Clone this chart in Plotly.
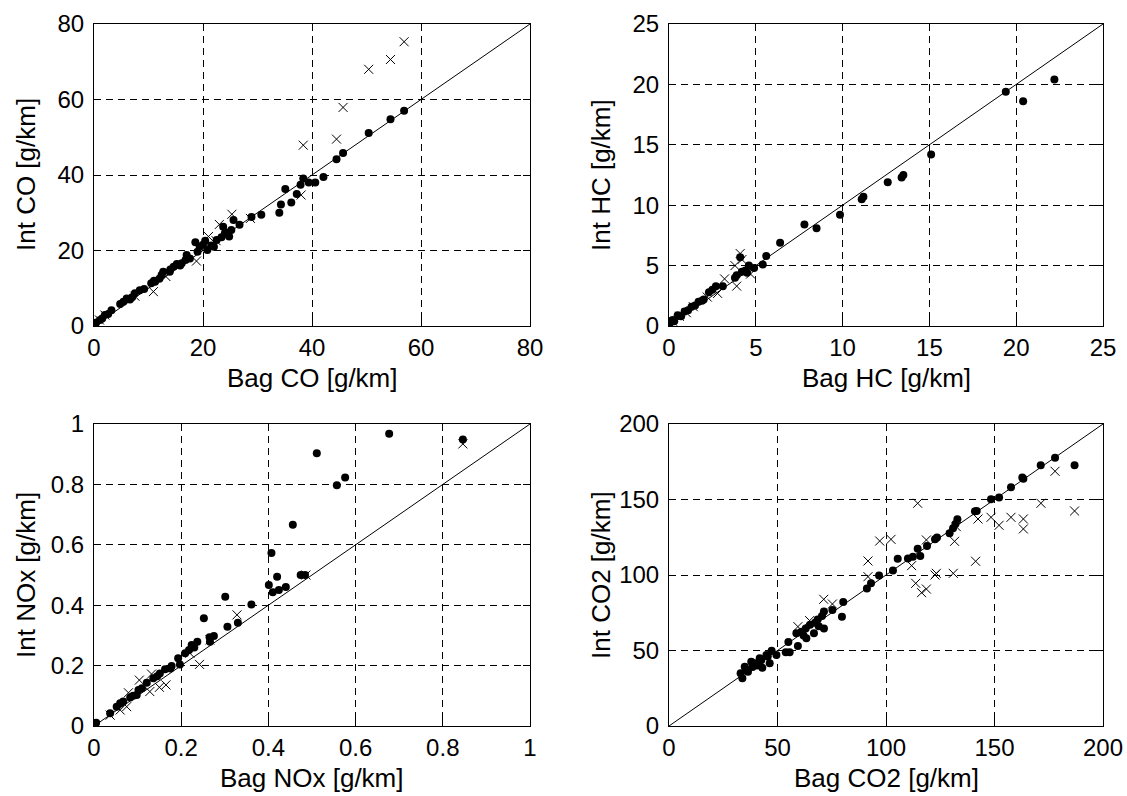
import plotly.graph_objects as go

# ---------------- data ----------------
co_dot_x = [56.9, 54.4, 50.4, 45.7, 44.5, 42.1, 40.6, 39.4, 38.4, 37.9, 37.2, 36.2, 35.1, 34.3, 34.0,
            30.7, 28.9, 26.7, 25.6, 25.2, 24.8, 23.7, 23.4, 22.5, 20.8, 20.4, 19.4, 18.6, 19.0, 17.0,
            16.1, 15.2, 14.6, 13.9, 12.7, 12.4, 11.2, 10.5, 8.4, 7.5, 6.0, 5.4, 4.8, 3.2, 2.0, 1.1,
            0.4, 0.2, 24.2, 21.5, 17.6, 15.8, 11.0, 9.2, 6.6, 2.6, 1.5, 16.8, 14.0, 20.0, 22.0,
            24.0, 12.0, 7.0]
co_dot_y = [57.0, 54.8, 51.1, 45.8, 44.2, 39.5, 38.0, 38.0, 39.1, 37.4, 35.0, 32.7, 36.3, 32.2, 30.0,
            29.5, 28.9, 26.8, 28.1, 25.4, 23.7, 26.3, 23.5, 22.8, 20.1, 22.6, 21.0, 22.2, 19.7, 18.8,
            16.6, 16.4, 15.7, 14.4, 14.4, 13.5, 11.7, 11.3, 9.5, 8.7, 7.3, 6.4, 5.8, 4.2, 2.9, 1.6,
            0.9, 0.4, 24.8, 21.3, 17.9, 16.0, 12.0, 9.8, 7.0, 3.2, 2.0, 17.5, 15.0, 21.5, 21.0,
            24.5, 12.5, 7.6]
co_x_x = [56.9, 54.4, 50.4, 45.7, 44.5, 38.4, 38.0, 25.3, 23.0, 21.0, 22.4, 18.8, 10.9, 28.7, 2.0,
          1.0, 13.2, 7.5, 0.5]
co_x_y = [75.3, 70.6, 68.0, 57.9, 49.5, 47.9, 34.7, 29.6, 26.9, 23.7, 22.6, 17.2, 9.1, 28.5, 2.9,
          1.6, 13.1, 7.9, 0.6]

hc_dot_x = [22.2, 20.4, 19.4, 15.1, 13.5, 13.4, 12.6, 11.2, 11.1, 9.85, 8.5, 7.8, 6.4, 5.6, 5.4,
            4.9, 4.6, 4.4, 4.2, 3.9, 4.1, 3.1, 2.7, 2.3, 2.0, 1.7, 1.3, 0.9, 0.5, 0.2, 0.04, 1.5,
            1.1, 0.7, 0.3, 4.5, 3.8, 2.5, 1.9]
hc_dot_y = [20.4, 18.6, 19.4, 14.2, 12.5, 12.3, 11.9, 10.7, 10.5, 9.2, 8.1, 8.4, 6.9, 5.8, 5.1,
            4.8, 5.0, 4.6, 4.5, 4.2, 5.7, 3.3, 3.3, 2.8, 2.2, 2.0, 1.6, 1.2, 0.9, 0.5, 0.2, 1.7,
            1.3, 0.8, 0.4, 4.4, 4.0, 3.0, 2.1]
hc_x_x = [4.1, 4.2, 3.8, 3.2, 3.9, 4.7, 2.8, 1.4, 0.6, 0.2, 2.2, 1.0]
hc_x_y = [6.0, 5.5, 5.0, 3.9, 3.3, 4.3, 2.7, 1.6, 0.8, 0.4, 2.4, 1.1]

nox_dot_x = [0.846, 0.677, 0.511, 0.576, 0.557, 0.456, 0.407, 0.474, 0.484, 0.420, 0.401, 0.410,
             0.424, 0.440, 0.301, 0.361, 0.252, 0.306, 0.330, 0.275, 0.265, 0.266, 0.237, 0.224,
             0.218, 0.209, 0.193, 0.197, 0.178, 0.163, 0.151, 0.136, 0.121, 0.102, 0.098, 0.083,
             0.067, 0.052, 0.037, 0.005, 0.0, 0.23, 0.11, 0.145, 0.175, 0.06, 0.09]
nox_dot_y = [0.949, 0.968, 0.903, 0.823, 0.797, 0.666, 0.573, 0.500, 0.500, 0.494, 0.467, 0.443,
             0.450, 0.460, 0.428, 0.402, 0.357, 0.329, 0.342, 0.298, 0.294, 0.279, 0.279, 0.268,
             0.252, 0.241, 0.224, 0.204, 0.199, 0.188, 0.174, 0.158, 0.143, 0.119, 0.103, 0.094,
             0.081, 0.064, 0.042, 0.011, 0.007, 0.26, 0.125, 0.165, 0.19, 0.075, 0.10]
nox_x_x = [0.846, 0.486, 0.328, 0.242, 0.165, 0.150, 0.128, 0.104, 0.132, 0.079, 0.075, 0.060,
           0.037, 0.266, 0.220]
nox_x_y = [0.934, 0.500, 0.368, 0.204, 0.136, 0.128, 0.114, 0.152, 0.172, 0.110, 0.064, 0.053,
           0.036, 0.285, 0.241]

co2_dot_x = [186.9, 177.9, 171.3, 163.3, 162.8, 157.6, 152.1, 148.4, 141.8, 141.0, 132.9, 132.0,
             130.9, 129.3, 123.5, 122.6, 118.9, 115.8, 114.6, 112.4, 110.1, 105.4, 103.2, 96.8,
             93.1, 91.2, 80.3, 79.7, 75.3, 71.4, 70.5, 71.4, 67.3, 66.8, 63.0, 63.3, 58.7, 59.4,
             55.0, 55.6, 53.8, 49.5, 47.3, 46.4, 44.9, 43.0, 41.8, 39.5, 37.9, 36.4, 34.9, 33.8,
             33.0, 65.0, 68.5, 61.0, 45.5, 40.5, 38.5, 35.5, 42.5, 62.0, 69.0]
co2_dot_y = [172.6, 177.7, 172.6, 163.8, 164.5, 158.1, 151.4, 150.1, 142.4, 142.2, 136.9, 133.8,
             130.9, 127.6, 124.9, 123.6, 119.2, 112.6, 117.4, 112.1, 111.0, 110.8, 102.9, 99.6,
             94.5, 91.0, 82.1, 72.4, 76.8, 75.9, 72.8, 64.5, 68.4, 61.4, 64.5, 58.1, 61.4, 53.0,
             55.6, 48.8, 48.8, 47.0, 49.9, 41.5, 47.0, 38.6, 44.8, 41.5, 42.6, 36.0, 39.3, 31.6,
             34.9, 67.0, 70.5, 62.5, 46.0, 40.0, 39.0, 37.5, 43.5, 60.0, 66.0]
co2_x_x = [177.9, 186.9, 171.4, 163.3, 163.3, 157.6, 152.1, 148.4, 142.4, 141.3, 131.6, 131.0,
           123.2, 122.6, 118.6, 116.4, 113.7, 114.6, 111.8, 102.3, 97.1, 91.7, 91.7, 71.3, 75.3,
           59.4, 64.8, 118.6, 132.4]
co2_x_y = [168.7, 142.4, 147.5, 137.1, 130.5, 138.2, 132.9, 138.2, 137.1, 109.1, 122.3, 101.1,
           101.1, 100.0, 90.7, 88.3, 94.5, 147.5, 106.2, 123.6, 122.5, 109.3, 98.9, 83.9, 80.8,
           65.8, 69.8, 123.2, 132.0]

panels = [
    dict(dx=co_dot_x, dy=co_dot_y, xx=co_x_x, xy=co_x_y, lim=80, dt=20,
         xt="Bag CO [g/km]", yt="Int CO [g/km]"),
    dict(dx=hc_dot_x, dy=hc_dot_y, xx=hc_x_x, xy=hc_x_y, lim=25, dt=5,
         xt="Bag HC [g/km]", yt="Int HC [g/km]"),
    dict(dx=nox_dot_x, dy=nox_dot_y, xx=nox_x_x, xy=nox_x_y, lim=1, dt=0.2,
         xt="Bag NOx [g/km]", yt="Int NOx [g/km]"),
    dict(dx=co2_dot_x, dy=co2_dot_y, xx=co2_x_x, xy=co2_x_y, lim=200, dt=50,
         xt="Bag CO2 [g/km]", yt="Int CO2 [g/km]"),
]

W, H = 1127, 796
# plot-area pixel boxes (left, right, top, bottom)
boxes = [(94, 530, 24, 326), (669, 1103, 24, 326), (94, 530, 424, 726), (669, 1103, 424, 726)]

FONT = "Arial, Liberation Sans, sans-serif"
fig = go.Figure()
annotations = []
layout = {}
for i, (p, b) in enumerate(zip(panels, boxes)):
    n = "" if i == 0 else str(i + 1)
    xa, ya = "x" + n, "y" + n
    l, r, t, bt = b
    xdom = [l / W, r / W]
    ydom = [1 - bt / H, 1 - t / H]
    lim = p["lim"]
    fig.add_trace(go.Scatter(x=[0, lim], y=[0, lim], mode="lines",
                             line=dict(color="black", width=1), xaxis=xa, yaxis=ya,
                             showlegend=False, hoverinfo="skip"))
    fig.add_trace(go.Scatter(x=p["dx"], y=p["dy"], mode="markers",
                             marker=dict(symbol="circle", size=8, color="black", line=dict(width=0)),
                             xaxis=xa, yaxis=ya, showlegend=False))
    fig.add_trace(go.Scatter(x=p["xx"], y=p["xy"], mode="markers",
                             marker=dict(symbol="x-thin-open", size=9, color="black",
                                         line=dict(width=1, color="black")),
                             xaxis=xa, yaxis=ya, showlegend=False))
    common = dict(range=[0, lim], dtick=p["dt"], tick0=0, showgrid=True, gridcolor="black",
                  griddash="7px,5px", gridwidth=1, zeroline=False, showline=True,
                  linecolor="black", linewidth=1, mirror="ticks", ticks="inside", ticklen=7,
                  tickwidth=1, tickcolor="black", tickfont=dict(family=FONT, size=24, color="black"),
                  automargin=False, fixedrange=True)
    layout["xaxis" + n] = dict(common, domain=xdom, anchor=ya, ticklabelstandoff=0)
    layout["yaxis" + n] = dict(common, domain=ydom, anchor=xa, ticklabelstandoff=4)
    annotations.append(dict(text=p["xt"], x=(l + r) / 2 / W, y=1 - (bt + 52) / H,
                            xref="paper", yref="paper", showarrow=False,
                            xanchor="center", yanchor="middle",
                            font=dict(family=FONT, size=26, color="black")))
    annotations.append(dict(text=p["yt"], x=(l - 68) / W, y=1 - (t + bt) / 2 / H,
                            xref="paper", yref="paper", showarrow=False, textangle=-90,
                            xanchor="center", yanchor="middle",
                            font=dict(family=FONT, size=26, color="black")))

fig.update_layout(**layout)
fig.update_layout(width=W, height=H, margin=dict(l=0, r=0, t=0, b=0),
                  paper_bgcolor="white", plot_bgcolor="white",
                  annotations=annotations, showlegend=False)
fig.write_html("out.html", config={"displayModeBar": False},
               post_script="document.body.style.margin='0';document.body.style.overflow='hidden';")
